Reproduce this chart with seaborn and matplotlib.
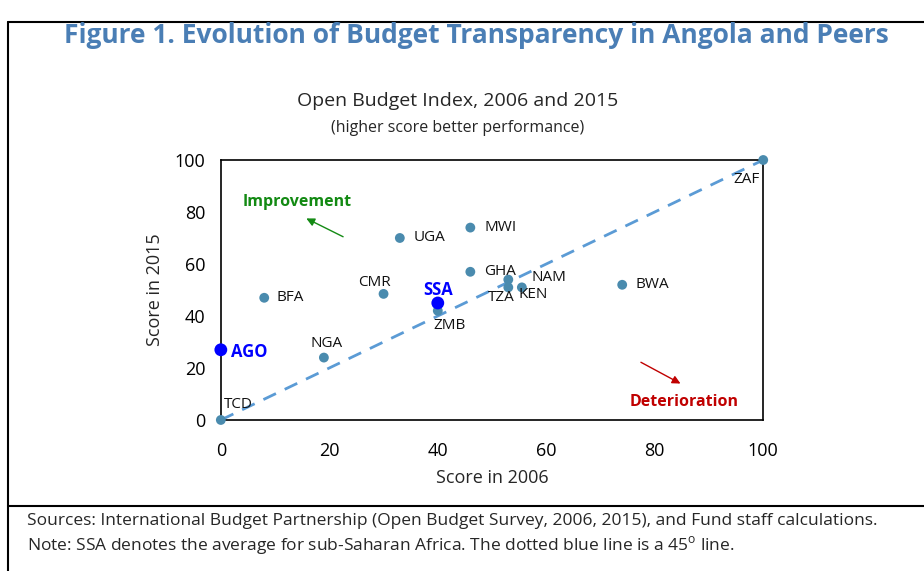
import pandas as pd
import matplotlib.pyplot as plt
import seaborn as sns
from matplotlib.lines import Line2D

# Open Budget Index scores
countries = ['AGO', 'TCD', 'BFA', 'NGA', 'CMR', 'UGA', 'MWI', 'GHA', 'ZMB', 'SSA',
             'NAM', 'TZA', 'KEN', 'BWA', 'ZAF']
score_2006 = [0, 0, 8, 19, 30, 33, 46, 46, 40, 40, 53, 53, 55.5, 74, 100]
score_2015 = [27, 0, 47, 24, 48.5, 70, 74, 57, 42, 45, 54, 51, 51, 52, 100]
highlight = ['AGO', 'SSA']

df = pd.DataFrame({'country': countries, 'y2006': score_2006, 'y2015': score_2015})
df['group'] = ['hl' if c in highlight else 'peer' for c in countries]

sns.set_style('white')
plt.rcParams['font.family'] = ['Open Sans', 'DejaVu Sans']

fig = plt.figure(figsize=(9.24, 5.71), dpi=100)
ax = fig.add_axes([0.239, 0.2645, 0.587, 0.4553])

# 45 degree line
ax.plot([0, 100], [0, 100], ls=(0, (5, 3.5)), color='#5B9BD5', lw=2, zorder=1)

sns.scatterplot(data=df[df.group == 'peer'], x='y2006', y='y2015', ax=ax,
                color='#4A8BAE', s=50, edgecolor='none', clip_on=False, zorder=3)
sns.scatterplot(data=df[df.group == 'hl'], x='y2006', y='y2015', ax=ax,
                color='#0000FF', s=85, edgecolor='none', clip_on=False, zorder=4)

# label offsets in pixels (dx, dy, ha)
offsets = {
    'AGO': (10, -2, 'left'), 'TCD': (17, 15, 'center'), 'BFA': (12, 0, 'left'),
    'NGA': (3, 14, 'center'), 'CMR': (-9, 11, 'center'), 'UGA': (14, 0, 'left'),
    'MWI': (14, 0, 'left'), 'GHA': (14, 0, 'left'), 'ZMB': (12, -15, 'center'),
    'SSA': (0, 13, 'center'), 'NAM': (23, 2, 'left'), 'TZA': (-7, -10, 'center'),
    'KEN': (-3, -7, 'left'), 'BWA': (13, 0, 'left'), 'ZAF': (-17, -20, 'center'),
}
for c, x, y in zip(countries, score_2006, score_2015):
    dx, dy, ha = offsets[c]
    if c in highlight:
        ax.annotate(c, (x, y), xytext=(dx, dy), textcoords='offset pixels', ha=ha,
                    va='center', fontsize=12, fontweight='bold', color='#0000FF')
    else:
        ax.annotate(c, (x, y), xytext=(dx, dy), textcoords='offset pixels', ha=ha,
                    va='center', fontsize=11, color='#111111')

# improvement / deterioration arrows
ax.annotate('', xy=(15.3, 78), xytext=(23, 70),
            arrowprops=dict(arrowstyle='-|>', color='#138A13', lw=1, mutation_scale=12))
ax.text(14, 84, 'Improvement', color='#138A13', fontsize=11.5, fontweight='bold',
        ha='center', va='center')
ax.annotate('', xy=(85.2, 13.5), xytext=(77, 22.7),
            arrowprops=dict(arrowstyle='-|>', color='#C00000', lw=1, mutation_scale=12))
ax.text(85.4, 6.9, 'Deterioration', color='#C00000', fontsize=11.5, fontweight='bold',
        ha='center', va='center')

ax.set_xlim(0, 100)
ax.set_ylim(0, 100)
ax.set_xticks(range(0, 101, 20))
ax.set_yticks(range(0, 101, 20))
ax.tick_params(direction='in', length=5, width=1, labelsize=13, colors='black')
ax.tick_params(axis='x', pad=16)
ax.tick_params(axis='y', pad=11)
ax.set_xlabel('Score in 2006', fontsize=13, labelpad=6)
ax.set_ylabel('Score in 2015', fontsize=13, labelpad=8)
for sp in ax.spines.values():
    sp.set_visible(True)
    sp.set_color('black')
    sp.set_linewidth(1.2)

# titles
fig.text(0.516, 0.937, 'Figure 1. Evolution of Budget Transparency in Angola and Peers',
         ha='center', va='center', fontsize=19, fontweight='bold', color='#4A7EB5')
fig.text(0.495, 0.823, 'Open Budget Index, 2006 and 2015', ha='center', va='center',
         fontsize=14)
fig.text(0.495, 0.776, '(higher score better performance)', ha='center', va='center',
         fontsize=11.5)

# frame and footer
fig.add_artist(Line2D([0.009, 1.0], [0.9615, 0.9615], color='black', lw=1.5))
fig.add_artist(Line2D([0.009, 0.009], [0.0, 0.9615], color='black', lw=1.5))
fig.add_artist(Line2D([0.009, 1.0], [0.114, 0.114], color='black', lw=1.5))
fig.text(0.029, 0.0875, 'Sources: International Budget Partnership (Open Budget Survey, 2006, 2015), '
         'and Fund staff calculations.', ha='left', va='center', fontsize=12.5)
fig.text(0.029, 0.044, 'Note: SSA denotes the average for sub-Saharan Africa. '
         'The dotted blue line is a 45$^{\\mathregular{o}}$ line.', ha='left', va='center', fontsize=12.5)

plt.savefig('out.png', dpi=100)
